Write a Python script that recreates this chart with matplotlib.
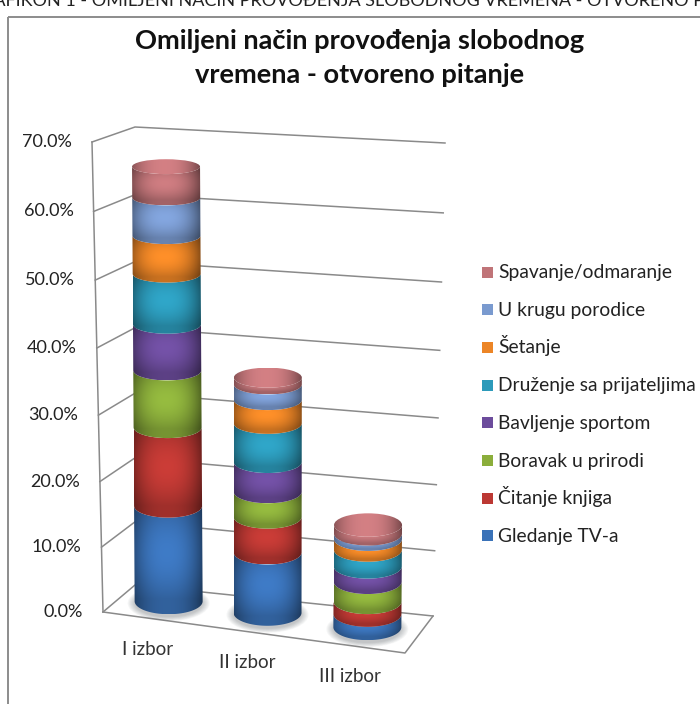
import numpy as np
import matplotlib
matplotlib.use("Agg")
import matplotlib.pyplot as plt
from matplotlib.colors import to_rgb
from matplotlib.patches import Ellipse, PathPatch, Rectangle
from matplotlib.path import Path

plt.rcParams['font.family'] = ['Lato', 'DejaVu Sans']

# Podaci
title = "Omiljeni način provođenja slobodnog\nvremena - otvoreno pitanje"
header = "GRAFIKON 1 - OMILJENI NAČIN PROVOĐENJA SLOBODNOG VREMENA - OTVORENO PITANJE"
categories = ['I izbor', 'II izbor', 'III izbor']
ticks = [0, 10, 20, 30, 40, 50, 60, 70]

gledanje_tv = [14.8, 9.3, 2.0]
citanje = [12.0, 5.4, 1.9]
boravak = [8.6, 3.8, 3.0]
sport = [6.9, 4.5, 2.3]
druzenje = [7.5, 5.8, 2.5]
setanje = [5.6, 3.5, 1.6]
porodica = [5.6, 2.3, 0.8]
spavanje = [4.5, 1.0, 1.3]

series = [gledanje_tv, citanje, boravak, sport, druzenje, setanje, porodica, spavanje]
names = ['Gledanje TV-a', 'Čitanje knjiga', 'Boravak u prirodi', 'Bavljenje sportom',
         'Druženje sa prijateljima', 'Šetanje', 'U krugu porodice', 'Spavanje/odmaranje']
colors = ['#3A72B8', '#BC3833', '#8BAE3B', '#6C4C9C', '#2C9ABA', '#EC8526', '#7A9ACF', '#C07478']

# Uglovi 3D kutije u pikselima slike
floor_fl, floor_bl, floor_br, floor_fr = (103, 612), (135, 585), (433, 616), (405, 653)
top_fl, top_bl, top_br, top_fr = (92, 142), (135, 127), (445, 143), (402, 160)
bar_pos = [0.155, 0.485, 0.825]
bar_depth = [0.6, 0.6, 0.53]
bar_rx = 34


def lerp(a, b, t):
    return np.array(a) + (np.array(b) - np.array(a)) * t


def project(c, d, v):
    # c - duz ose kategorija, d - dubina, v - vrijednost u %
    t = v / 70
    t = t - 0.04 * t * (1 - t)
    base = lerp(lerp(floor_fl, floor_fr, c), lerp(floor_bl, floor_br, c), d)
    top = lerp(lerp(top_fl, top_fr, c), lerp(top_bl, top_br, c), d)
    return lerp(base, top, t)


def ry(v):
    return 13 - 0.085 * v


def shade_image(color, x0, x1, y0, y1, clip, cap=False):
    rgb = np.array(to_rgb(color))
    xs = np.linspace(-1, 1, 90)
    ts = np.linspace(0, 1, 60)
    uu, tt = np.meshgrid(xs, ts)
    s = 1.04 - 0.42 * np.abs(uu + 0.05) ** 2.4
    if cap:
        s = s + 0.06
    else:
        s = s * (0.82 + 0.22 * np.sin(np.pi * np.clip(tt * 1.15, 0, 1)))
    img = np.clip(rgb[None, None, :] * s[:, :, None], 0, 1)
    im = ax.imshow(img, extent=(x0, x1, y1, y0), origin='upper', aspect='auto',
                   interpolation='bilinear', zorder=5)
    im.set_clip_path(clip)


fig = plt.figure(figsize=(7, 7.04), dpi=100)
ax = fig.add_axes([0, 0, 1, 1])
ax.set_axis_off()

# Okvir dijagrama i odsjeceni naslov iznad
ax.add_patch(Rectangle((8, 17), 760, 760, fill=False, ec='#8C8C8C', lw=1.4))
ax.text(-31, 6, header, fontsize=13, color='#222222', va='baseline', ha='left')
ax.text(360, 58, title, fontsize=19.6, fontweight='bold', ha='center', va='center',
        linespacing=1.5, color='#111111')

# Mreza
grid_c = '#8A8A8A'
for v in ticks:
    p1, p2, p3 = project(0, 0, v), project(0, 1, v), project(1, 1, v)
    ax.plot([p1[0], p2[0], p3[0]], [p1[1], p2[1], p3[1]], color=grid_c, lw=1.1, zorder=1)
    ax.text(p1[0] - 20, p1[1], f'{v:.1f}%', fontsize=13, ha='right', va='center', color='#222222')
ax.plot([top_fl[0], floor_fl[0]], [top_fl[1], floor_fl[1]], color=grid_c, lw=1.1, zorder=1)
ax.plot([floor_fl[0], floor_fr[0], floor_br[0]], [floor_fl[1], floor_fr[1], floor_br[1]],
        color=grid_c, lw=1.1, zorder=1)

# Valjci
values = np.array(series)
for i, cat in enumerate(categories):
    start = project(bar_pos[i], bar_depth[i], 0)
    # sjenka na podu
    for k in range(8):
        ax.add_patch(Ellipse(start + np.array([0, 2]), 2 * (bar_rx + 7 - k), 2 * (ry(0) + 5 - 0.6 * k),
                             color='#30363f', alpha=0.04, lw=0, zorder=2))
    low = 0
    for j in range(len(series)):
        high = low + values[j, i]
        c0 = project(bar_pos[i], bar_depth[i], low)
        c1 = project(bar_pos[i], bar_depth[i], high)
        th = np.linspace(0, np.pi, 60)
        bottom = np.column_stack([c0[0] + bar_rx * np.cos(th), c0[1] + ry(low) * np.sin(th)])
        upper = np.column_stack([c1[0] + bar_rx * np.cos(th[::-1]), c1[1] + ry(high) * np.sin(th[::-1])])
        pts = np.vstack([bottom, upper, bottom[:1]])
        clip = PathPatch(Path(pts), transform=ax.transData, fc='none', lw=0)
        ax.add_patch(clip)
        shade_image(colors[j], pts[:, 0].min(), pts[:, 0].max(), pts[:, 1].min(), pts[:, 1].max(), clip)
        low = high
    # poklopac
    cap = Ellipse(c1, 2 * bar_rx, 2 * ry(high), transform=ax.transData, fc='none', lw=0)
    ax.add_patch(cap)
    shade_image(colors[-1], c1[0] - bar_rx, c1[0] + bar_rx, c1[1] - ry(high), c1[1] + ry(high), cap, cap=True)

# Natpisi kategorija
for pos, cat in zip(bar_pos, categories):
    p = project(pos, 0, 0)
    ax.text(p[0] - 2, p[1] + 31, cat, fontsize=13.5, ha='center', va='center', color='#333333')

# Legenda, odozgo prema dolje
for k, (c, n) in enumerate(zip(colors[::-1], names[::-1])):
    y = 272 + 37.7 * k
    ax.add_patch(Rectangle((482, y - 5.5), 11, 11, fc=c, ec='none'))
    ax.text(498, y + 6, n, fontsize=13.9, va='baseline', ha='left', color='#222222')

ax.set_xlim(0, 700)
ax.set_ylim(704, 0)
fig.savefig('out.png', dpi=100)
